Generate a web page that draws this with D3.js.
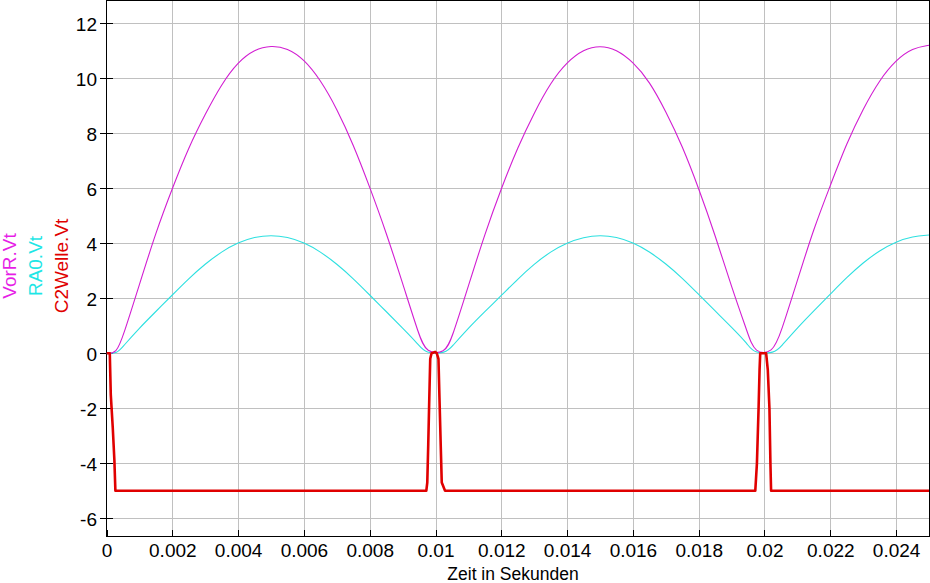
<!DOCTYPE html>
<html><head><meta charset="utf-8">
<script src="https://cdn.jsdelivr.net/npm/d3@7"></script>
<style>html,body{margin:0;padding:0;background:#fff;overflow:hidden}</style>
</head><body>
<svg id="c" width="930" height="583"></svg>
<script>
const xTicks = [0, 0.002, 0.004, 0.006, 0.008, 0.01, 0.012, 0.014, 0.016, 0.018, 0.02, 0.022, 0.024];
const xTickLabels = ["0", "0.002", "0.004", "0.006", "0.008", "0.01", "0.012", "0.014", "0.016", "0.018", "0.02", "0.022", "0.024"];
const yTicks = [-6, -4, -2, 0, 2, 4, 6, 8, 10, 12];
const yTickLabels = ["-6", "-4", "-2", "0", "2", "4", "6", "8", "10", "12"];
const seriesNames = ["VorR.Vt", "RA0.Vt", "C2Welle.Vt"];
const xTitle = "Zeit in Sekunden";

const tVorR = [0, 0.0003, 0.0005, 0.001, 0.0015, 0.002, 0.0025, 0.003, 0.0035, 0.004, 0.0045, 0.005, 0.0055, 0.006, 0.0065, 0.007, 0.0075, 0.008, 0.0085, 0.009, 0.0095, 0.00972, 0.01029, 0.0105, 0.011, 0.0115, 0.012, 0.0125, 0.013, 0.0135, 0.014, 0.0145, 0.015, 0.0155, 0.016, 0.0165, 0.017, 0.0175, 0.018, 0.0185, 0.019, 0.0195, 0.0197, 0.02025, 0.0205, 0.021, 0.0215, 0.022, 0.0225, 0.023, 0.0235, 0.024, 0.0245, 0.025];
const vVorR = [0, 0, 0.6, 2.5, 4.4, 6.0, 7.5, 8.7, 9.8, 10.6, 11.05, 11.2, 11.1, 10.7, 9.95, 8.9, 7.6, 6.05, 4.4, 2.55, 0.65, 0, 0, 0.55, 2.45, 4.35, 6.0, 7.5, 8.75, 9.85, 10.6, 11.05, 11.2, 11.05, 10.6, 9.9, 8.8, 7.55, 6.0, 4.3, 2.4, 0.7, 0, 0, 0.75, 2.65, 4.55, 6.1, 7.65, 8.9, 9.95, 10.67, 11.1, 11.2];

const tRA0 = [0, 0.00033, 0.0005, 0.001, 0.0015, 0.002, 0.0025, 0.003, 0.0035, 0.004, 0.0045, 0.005, 0.0055, 0.006, 0.0065, 0.007, 0.0075, 0.008, 0.0085, 0.009, 0.0095, 0.00968, 0.01033, 0.0105, 0.011, 0.0115, 0.012, 0.0125, 0.013, 0.0135, 0.014, 0.0145, 0.015, 0.0155, 0.016, 0.0165, 0.017, 0.0175, 0.018, 0.0185, 0.019, 0.0195, 0.01966, 0.02032, 0.0205, 0.021, 0.0215, 0.022, 0.0225, 0.023, 0.0235, 0.024, 0.0245, 0.025];
const vRA0 = [0, 0, 0.25, 0.92, 1.52, 2.12, 2.72, 3.25, 3.7, 4.03, 4.23, 4.3, 4.23, 4.03, 3.7, 3.25, 2.72, 2.12, 1.52, 0.92, 0.3, 0, 0, 0.25, 0.92, 1.52, 2.1, 2.7, 3.25, 3.7, 4.02, 4.22, 4.3, 4.23, 4.03, 3.7, 3.26, 2.74, 2.14, 1.54, 0.95, 0.33, 0, 0, 0.25, 0.93, 1.55, 2.15, 2.76, 3.3, 3.74, 4.06, 4.25, 4.3];

const tC2 = [0, 0.0001, 0.00013, 0.00019, 0.00024, 0.00027, 0.00972, 0.00975, 0.00978, 0.00981, 0.00984, 0.00988, 0.00999, 0.01004, 0.01009, 0.01012, 0.01016, 0.01019, 0.01029, 0.01972, 0.01977, 0.01982, 0.01985, 0.01987, 0.02005, 0.0201, 0.02015, 0.02018, 0.0202, 0.025];
const vC2 = [0, 0, -1.5, -2.7, -3.9, -5.0, -5.0, -4.7, -3.3, -1.7, -0.2, 0, 0.05, 0, -0.2, -1.6, -3.4, -4.7, -5.0, -5.0, -4.0, -2.0, -0.6, 0, 0, -0.6, -2.0, -4.0, -5.0, -5.0];

const FONT = "'Liberation Sans', Arial, sans-serif";
const svg = d3.select("#c");
const L = 106.5, R = 929.5, T = 0.5, B = 536.5;
const x = d3.scaleLinear().domain([0, 0.025]).range([L, 929]);
const y = d3.scaleLinear().domain([-6.644, 12.83]).range([536, 0.5]);

// grid
const grid = svg.append("g").attr("stroke", "#c0c0c0").attr("stroke-width", 1);
grid.selectAll("line.gx").data(xTicks.filter(d => d > 0)).join("line")
  .attr("x1", d => Math.round(x(d)) + 0.5).attr("x2", d => Math.round(x(d)) + 0.5)
  .attr("y1", T).attr("y2", B);
grid.selectAll("line.gy").data(yTicks).join("line").attr("class", "gy")
  .attr("x1", L).attr("x2", R)
  .attr("y1", d => Math.round(y(d)) + 0.5).attr("y2", d => Math.round(y(d)) + 0.5);

// axes via d3
const xAxis = d3.axisBottom(x).tickValues(xTicks).tickFormat((d, i) => xTickLabels[i]).tickSize(0).tickPadding(10);
const gx = svg.append("g").attr("transform", `translate(0,${B})`).call(xAxis);
gx.select(".domain").remove();
gx.selectAll("text").attr("font-family", FONT).attr("font-size", "19px").attr("fill", "#000").attr("dy", "0.71em").attr("y", 7);

const yAxis = d3.axisLeft(y).tickValues(yTicks).tickFormat((d, i) => yTickLabels[i]).tickSize(0).tickPadding(10);
const gy = svg.append("g").attr("transform", `translate(${L},0)`).call(yAxis);
gy.select(".domain").remove();
gy.selectAll("text").attr("font-family", FONT).attr("font-size", "19px").attr("fill", "#000").attr("x", -9.5).attr("dy", "0.36em");

// tick marks
svg.append("g").selectAll("line").data(yTicks).join("line")
  .attr("x1", 100).attr("x2", 113)
  .attr("y1", d => Math.round(y(d)) + 0.5).attr("y2", d => Math.round(y(d)) + 0.5)
  .attr("stroke", "#000").attr("stroke-width", 1);
svg.append("g").selectAll("line").data(xTicks).join("line")
  .attr("x1", d => Math.round(x(d)) + 0.5).attr("x2", d => Math.round(x(d)) + 0.5)
  .attr("y1", 530).attr("y2", B)
  .attr("stroke", "#000").attr("stroke-width", 1);

// frame
svg.append("rect").attr("x", L).attr("y", T).attr("width", R - L).attr("height", B - T)
  .attr("fill", "none").attr("stroke", "#000").attr("stroke-width", 1);

// clip
svg.append("clipPath").attr("id", "clip").append("rect")
  .attr("x", L).attr("y", 0).attr("width", R - L).attr("height", B);

const plot = svg.append("g").attr("clip-path", "url(#clip)");
const lineSmooth = d3.line().x(d => x(d[0])).y(d => y(d[1])).curve(d3.curveBasis);
const lineStraight = d3.line().x(d => x(d[0])).y(d => y(d[1]));

plot.append("path").datum(d3.zip(tRA0, vRA0)).attr("d", lineSmooth)
  .attr("fill", "none").attr("stroke", "#2ee0e0").attr("stroke-width", 1.1);
plot.append("path").datum(d3.zip(tVorR, vVorR)).attr("d", lineSmooth)
  .attr("fill", "none").attr("stroke", "#d21ed2").attr("stroke-width", 1.1);
plot.append("path").datum(d3.zip(tC2, vC2)).attr("d", lineStraight)
  .attr("fill", "none").attr("stroke", "#e00000").attr("stroke-width", 2.6).attr("stroke-linejoin", "round");

// y series labels
const labelColors = ["#e61ee6", "#1ee6e6", "#e00000"];
const labelX = [16, 42, 68];
seriesNames.forEach((n, i) => {
  svg.append("text").text(n)
    .attr("transform", `translate(${labelX[i]},266) rotate(-90)`)
    .attr("text-anchor", "middle")
    .attr("font-family", FONT).attr("font-size", "19px")
    .attr("fill", labelColors[i]);
});

// x title
svg.append("text").text(xTitle).attr("x", 513).attr("y", 580)
  .attr("text-anchor", "middle").attr("font-family", FONT).attr("font-size", "17.5px").attr("fill", "#000");
</script>
</body></html>
